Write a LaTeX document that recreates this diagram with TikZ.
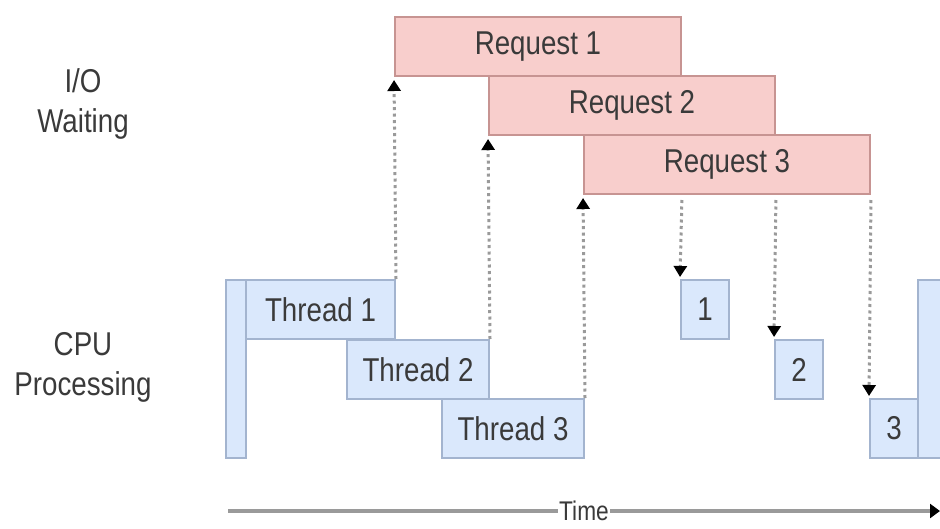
\documentclass[tikz,border=0pt]{standalone}
\usepackage{fontspec}
\setmainfont[FakeStretch=0.84]{Liberation Sans}
\usetikzlibrary{arrows.meta}
\definecolor{reqfill}{HTML}{F8CECC}
\definecolor{reqline}{HTML}{C79492}
\definecolor{thrfill}{HTML}{DAE8FC}
\definecolor{thrline}{HTML}{A3B4CF}
\definecolor{txt}{HTML}{3A3A3A}
\definecolor{dots}{HTML}{9A9A9A}
\begin{document}
\begin{tikzpicture}[x=1pt,y=-1pt,
    box/.style={line width=2pt, inner sep=0pt, anchor=north west, text=txt,
      font=\fontsize{33}{40}\selectfont},
    req/.style={box, draw=reqline, fill=reqfill, minimum width=286pt, minimum height=59pt},
    thr/.style={box, draw=thrline, fill=thrfill, minimum height=59pt},
    lane/.style={text=txt, align=center, font=\fontsize{33}{40}\selectfont},
    flow/.style={draw=dots, line width=3pt, dash pattern=on 3pt off 3.5pt,
      -{Triangle[width=13pt,length=11pt,color=black]}}]
    \useasboundingbox (0,0) rectangle (940,528);
    \clip (0,0) rectangle (940,528);
    \node[lane] (io) at (83,104) {I/O\\Waiting};
    \node[lane] (cpu) at (83,367) {CPU\\Processing};
    \node[req] (r1) at (394,16) {Request 1};
    \node[req] (r2) at (488,75) {Request 2};
    \node[req] (r3) at (583,134) {Request 3};
    \node[thr, minimum width=20pt, minimum height=178pt] (bar) at (225,279) {};
    \node[thr, minimum width=149pt] (t1) at (245,279) {Thread 1};
    \node[thr, minimum width=142pt] (t2) at (346,339) {Thread 2};
    \node[thr, minimum width=142pt] (t3) at (441,398) {Thread 3};
    \node[thr, minimum width=48pt] (c1) at (680,279) {1};
    \node[thr, minimum width=48pt] (c2) at (774,339) {2};
    \node[thr, minimum width=48pt] (c3) at (869,398) {3};
    \node[thr, minimum width=40pt, minimum height=178pt] (barend) at (917,279) {};
    \draw[flow, shorten >=3pt] (t1.north east) -- (r1.south west);
    \draw[flow, shorten >=3pt] (t2.north east) -- (r2.south west);
    \draw[flow, shorten >=3pt] (t3.north east) -- (r3.south west);
    \draw[flow, shorten <=5pt, shorten >=2pt] (r1.south east |- r3.south) -- (c1.north west);
    \draw[flow, shorten <=5pt, shorten >=2pt] (r2.south east |- r3.south) -- (c2.north west);
    \draw[flow, shorten <=5pt, shorten >=2pt] (r3.south east) -- (c3.north west);
    \coordinate (t0) at (228,511);
    \coordinate (tend) at (940,511);
    \draw[dots, line width=3.5pt, -{Triangle[width=14pt,length=10pt,color=black]}] (t0) -- node[fill=white, text=txt, inner sep=1pt, font=\fontsize{27}{32}\selectfont] {Time} (tend);
\end{tikzpicture}
\end{document}
